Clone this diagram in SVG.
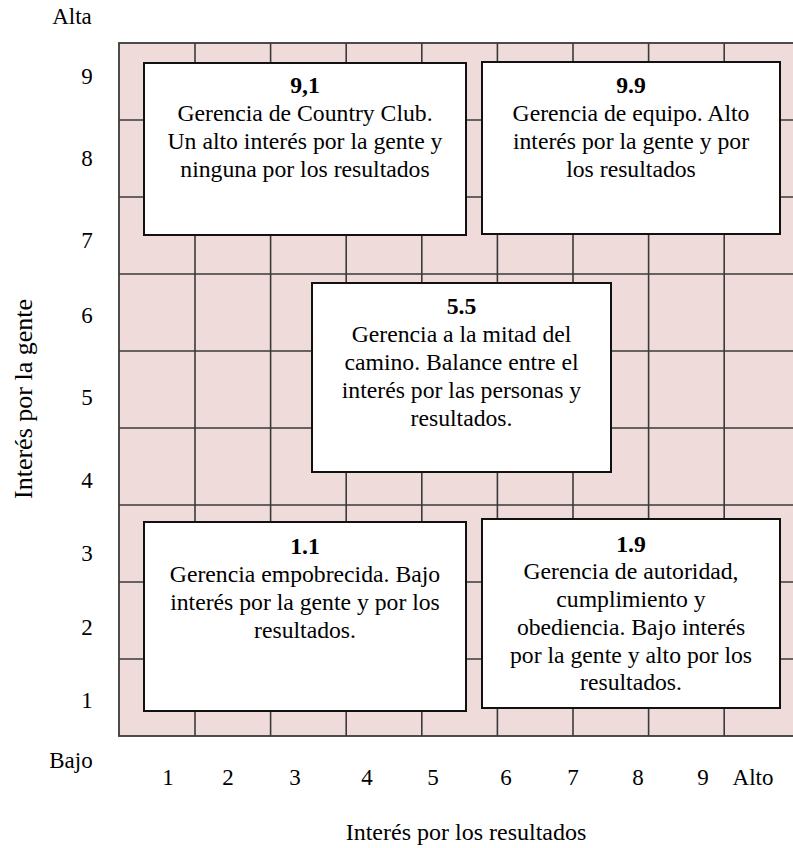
<svg xmlns="http://www.w3.org/2000/svg" width="793" height="848" viewBox="0 0 793 848">
<style>
text{font-family:"Liberation Serif","Times New Roman",serif;fill:#000;}
.t{font-size:23.7px;text-anchor:middle;}
.b{font-weight:bold;}
.ax{font-size:23px;text-anchor:middle;}
.grid line{stroke:#3a3a3a;stroke-width:1.6;}
.box{fill:#fff;stroke:#111;stroke-width:2;}
</style>
<rect width="793" height="848" fill="#fff"/>
<g id="grid">
<rect x="119" y="43" width="690" height="693" fill="#f0dbdb" stroke="#3a3a3a" stroke-width="1.8"/>
<g class="grid">
<line x1="195" y1="43" x2="195" y2="736"/>
<line x1="270.6" y1="43" x2="270.6" y2="736"/>
<line x1="346.2" y1="43" x2="346.2" y2="736"/>
<line x1="421.8" y1="43" x2="421.8" y2="736"/>
<line x1="497.4" y1="43" x2="497.4" y2="736"/>
<line x1="573" y1="43" x2="573" y2="736"/>
<line x1="648.6" y1="43" x2="648.6" y2="736"/>
<line x1="724.2" y1="43" x2="724.2" y2="736"/>
<line x1="119" y1="120" x2="800" y2="120"/>
<line x1="119" y1="197" x2="800" y2="197"/>
<line x1="119" y1="274" x2="800" y2="274"/>
<line x1="119" y1="351" x2="800" y2="351"/>
<line x1="119" y1="428" x2="800" y2="428"/>
<line x1="119" y1="505" x2="800" y2="505"/>
<line x1="119" y1="582" x2="800" y2="582"/>
<line x1="119" y1="659" x2="800" y2="659"/>
</g>
</g>
<g id="axes">
<text x="72" y="24" class="ax">Alta</text>
<text x="87" y="84" class="ax">9</text>
<text x="87" y="166" class="ax">8</text>
<text x="87" y="248" class="ax">7</text>
<text x="87" y="323" class="ax">6</text>
<text x="87" y="405" class="ax">5</text>
<text x="87" y="488" class="ax">4</text>
<text x="87" y="561" class="ax">3</text>
<text x="87" y="635" class="ax">2</text>
<text x="87" y="708" class="ax">1</text>
<text x="71" y="768" class="ax">Bajo</text>
<text x="168" y="785" class="ax">1</text>
<text x="228" y="785" class="ax">2</text>
<text x="295" y="785" class="ax">3</text>
<text x="367" y="785" class="ax">4</text>
<text x="433" y="785" class="ax">5</text>
<text x="506" y="785" class="ax">6</text>
<text x="573" y="785" class="ax">7</text>
<text x="638" y="785" class="ax">8</text>
<text x="703" y="785" class="ax">9</text>
<text x="753" y="785" class="ax">Alto</text>
<text x="466" y="840" style="font-size:24px;text-anchor:middle">Interés por los resultados</text>
<text transform="translate(32,399) rotate(-90)" style="font-size:26px;text-anchor:middle">Interés por la gente</text>
</g>
<g id="box91">
<rect x="144" y="63" width="322" height="172" class="box"/>
<text x="305" y="93" class="t b">9,1</text>
<text x="305" y="121" class="t">Gerencia de Country Club.</text>
<text x="305" y="149" class="t">Un alto interés por la gente y</text>
<text x="305" y="177" class="t">ninguna por los resultados</text>
</g>
<g id="box99">
<rect x="482" y="62" width="298" height="172" class="box"/>
<text x="631" y="93" class="t b">9.9</text>
<text x="631" y="121" class="t">Gerencia de equipo. Alto</text>
<text x="631" y="149" class="t">interés por la gente y por</text>
<text x="631" y="177" class="t">los resultados</text>
</g>
<g id="box55">
<rect x="312" y="283" width="299" height="189" class="box"/>
<text x="461.5" y="314" class="t b">5.5</text>
<text x="461.5" y="342" class="t">Gerencia a la mitad del</text>
<text x="461.5" y="370" class="t">camino. Balance entre el</text>
<text x="461.5" y="398" class="t">interés por las personas y</text>
<text x="461.5" y="426" class="t">resultados.</text>
</g>
<g id="box11">
<rect x="144" y="522" width="322" height="189" class="box"/>
<text x="305" y="554" class="t b">1.1</text>
<text x="305" y="582" class="t">Gerencia empobrecida. Bajo</text>
<text x="305" y="610" class="t">interés por la gente y por los</text>
<text x="305" y="638" class="t">resultados.</text>
</g>
<g id="box19">
<rect x="482" y="519" width="298" height="189" class="box"/>
<text x="631" y="552" class="t b">1.9</text>
<text x="631" y="579" class="t">Gerencia de autoridad,</text>
<text x="631" y="607" class="t">cumplimiento y</text>
<text x="631" y="635" class="t">obediencia. Bajo interés</text>
<text x="631" y="663" class="t">por la gente y alto por los</text>
<text x="631" y="690" class="t">resultados.</text>
</g>
<g id="connectors"></g>
</svg>
